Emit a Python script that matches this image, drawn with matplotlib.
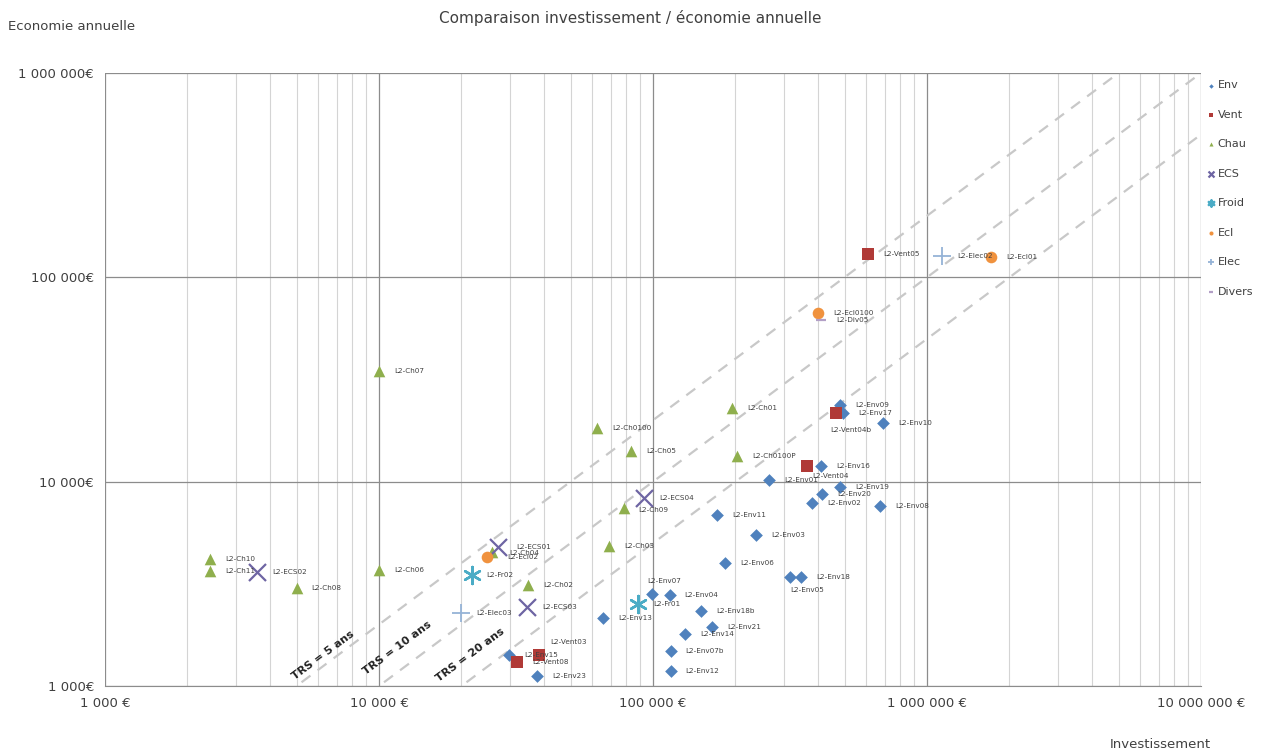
import numpy as np
import matplotlib
matplotlib.use("Agg")
import matplotlib.pyplot as plt
from matplotlib.ticker import FixedLocator, LogLocator, NullFormatter

# data (investissement in EUR, economie annuelle in EUR/an)
env_names = ['L2-Env09', 'L2-Env17', 'L2-Env10', 'L2-Env16', 'L2-Env01', 'L2-Env19',
             'L2-Env20', 'L2-Env02', 'L2-Env08', 'L2-Env11', 'L2-Env03', 'L2-Env06',
             'L2-Env05', 'L2-Env18', 'L2-Env07', 'L2-Env04', 'L2-Env18b', 'L2-Env21',
             'L2-Env14', 'L2-Env13', 'L2-Env07b', 'L2-Env12', 'L2-Env15', 'L2-Env23']
env_inv = [481000, 493000, 690000, 410000, 265000, 481000,
           414000, 380000, 673000, 171000, 238000, 183000,
           316000, 347000, 99000, 115000, 150000, 164000,
           131000, 65800, 116000, 116000, 29800, 37800]
env_eco = [23700, 21700, 19400, 11900, 10200, 9420,
           8700, 7850, 7600, 6850, 5480, 4000,
           3410, 3410, 2820, 2790, 2330, 1940,
           1790, 2150, 1480, 1180, 1416, 1120]

vent_names = ['L2-Vent05', 'L2-Vent04b', 'L2-Vent04', 'L2-Vent03', 'L2-Vent08']
vent_inv = [610000, 466000, 365000, 38400, 31900]
vent_eco = [130000, 21700, 11900, 1416, 1310]

chau_names = ['L2-Ch10', 'L2-Ch11', 'L2-Ch08', 'L2-Ch06', 'L2-Ch07', 'L2-Ch0100',
              'L2-Ch05', 'L2-Ch01', 'L2-Ch0100P', 'L2-Ch09', 'L2-Ch03', 'L2-Ch02', 'L2-Ch04']
chau_inv = [2420, 2420, 5000, 10000, 10000, 62500,
            83200, 194000, 203000, 78300, 69000, 35000, 25800]
chau_eco = [4180, 3650, 3015, 3690, 34800, 18300,
            14100, 22900, 13300, 7430, 4840, 3120, 4520]

ecs_names = ['L2-ECS02', 'L2-ECS01', 'L2-ECS03', 'L2-ECS04']
ecs_inv = [3590, 27200, 34700, 92700]
ecs_eco = [3610, 4790, 2430, 8320]

froid_names = ['L2-Fr02', 'L2-Fr01']
froid_inv = [21800, 88100]
froid_eco = [3490, 2520]

ecl_names = ['L2-Ecl01', 'L2-Ecl0100', 'L2-Ecl02']
ecl_inv = [1710000, 400000, 24800]
ecl_eco = [125700, 66800, 4280]

elec_names = ['L2-Elec02', 'L2-Elec03']
elec_inv = [1135000, 19900]
elec_eco = [127000, 2275]

div_names = ['L2-Div05']
div_inv = [412000]
div_eco = [61800]

trs_years = [5, 10, 20]

# label offsets (pixels) that differ from the default right-hand placement
label_offsets = {
    'L2-Env05': (0, -13), 'L2-Vent04b': (-6, -17), 'L2-Vent04': (5, -10),
    'L2-Env07': (-5, 13), 'L2-Vent03': (11, 13), 'L2-Ch09': (14, -2),
    'L2-Ch04': (17, -1), 'L2-Ecl02': (20, 0), 'L2-ECS01': (18, 0),
}

series = [
    ('Env', env_names, env_inv, env_eco, dict(marker='D', color='#4f81bd', s=42, lw=0)),
    ('Vent', vent_names, vent_inv, vent_eco, dict(marker='s', color='#b03a37', s=80, lw=0)),
    ('Chau', chau_names, chau_inv, chau_eco, dict(marker='^', color='#8faf4d', s=70, lw=0)),
    ('ECS', ecs_names, ecs_inv, ecs_eco, dict(marker='x', color='#6e65a3', s=150, lw=1.6)),
    ('Froid', froid_names, froid_inv, froid_eco, dict(marker=(6, 2, 0), color='#4bacc6', s=150, lw=1.8)),
    ('Ecl', ecl_names, ecl_inv, ecl_eco, dict(marker='o', color='#f0923e', s=70, lw=0)),
    ('Elec', elec_names, elec_inv, elec_eco, dict(marker='+', color='#95b3d7', s=170, lw=1.3)),
    ('Divers', div_names, div_inv, div_eco, dict(marker='_', color='#b29fc6', s=60, lw=1.6)),
]

fig = plt.figure(figsize=(12.67, 7.53), dpi=100)
ax = fig.add_axes([105 / 1267, 1 - 686 / 753, (1201 - 105) / 1267, (686 - 73) / 753])
ax.set_xscale('log')
ax.set_yscale('log')
ax.set_xlim(1e3, 1e7)
ax.set_ylim(1e3, 1e6)

# grid
ax.xaxis.set_major_locator(FixedLocator([1e3, 1e4, 1e5, 1e6, 1e7]))
ax.xaxis.set_minor_locator(LogLocator(base=10, subs=np.arange(2, 10)))
ax.xaxis.set_minor_formatter(NullFormatter())
ax.yaxis.set_major_locator(FixedLocator([1e3, 1e4, 1e5, 1e6]))
ax.yaxis.set_minor_locator(FixedLocator([]))
ax.grid(True, which='major', color='#8c8c8c', lw=0.9)
ax.grid(True, which='minor', axis='x', color='#d4d4d4', lw=0.8)
ax.set_axisbelow(True)
for sp in ax.spines.values():
    sp.set_visible(False)
ax.spines['bottom'].set_visible(True)
ax.spines['bottom'].set_color('#8c8c8c')
ax.tick_params(which='both', length=0, colors='#404040', labelsize=9.5, pad=8)
ax.set_xticklabels(['1 000 €', '10 000 €', '100 000 €', '1 000 000 €', '10 000 000 €'])
ax.set_yticklabels(['1 000€', '10 000€', '100 000€', '1 000 000€'])

# TRS lines
xs = np.array([1e3, 1e7])
for k in trs_years:
    ax.plot(xs, xs / k, ls=(0, (5, 4)), color='#c8c8c8', lw=1.6, zorder=1)
trs_pos = [(6250, 1416), (11650, 1535), (21500, 1416)]
for k, (tx, ty) in zip(trs_years, trs_pos):
    ax.text(tx, ty, f'TRS = {k} ans', rotation=36.7, ha='center', va='center',
            fontsize=8, fontweight='bold', color='#222222', rotation_mode='anchor')

# points
for name, labels, inv, eco, st in series:
    ax.scatter(inv, eco, label=name, zorder=3, **st)
    for lab, xv, yv in zip(labels, inv, eco):
        dx, dy = label_offsets.get(lab, (15, 0))
        ax.annotate(lab, (xv, yv), xytext=(dx, dy), textcoords='offset pixels',
                    ha='left', va='center', fontsize=5.2, color='#404040', zorder=4)

leg = ax.legend(loc='upper left', bbox_to_anchor=(1201 / 1267 + 0.001, 1 - 76 / 753),
                bbox_transform=fig.transFigure, frameon=False, fontsize=8,
                markerscale=0.35, handletextpad=0.2, labelspacing=1.75,
                handlelength=0.8, borderaxespad=0)
for t in leg.get_texts():
    t.set_color('#404040')

fig.text(630 / 1267, 1 - 18 / 753, 'Comparaison investissement / économie annuelle',
         ha='center', va='center', fontsize=11, color='#404040')
fig.text(72 / 1267, 1 - 27 / 753, 'Economie annuelle', ha='center', va='center',
         fontsize=9.5, color='#404040')
fig.text(1160 / 1267, 1 - 745 / 753, 'Investissement', ha='center', va='center',
         fontsize=9.5, color='#404040')

fig.savefig('out.png', dpi=100, facecolor='white')
